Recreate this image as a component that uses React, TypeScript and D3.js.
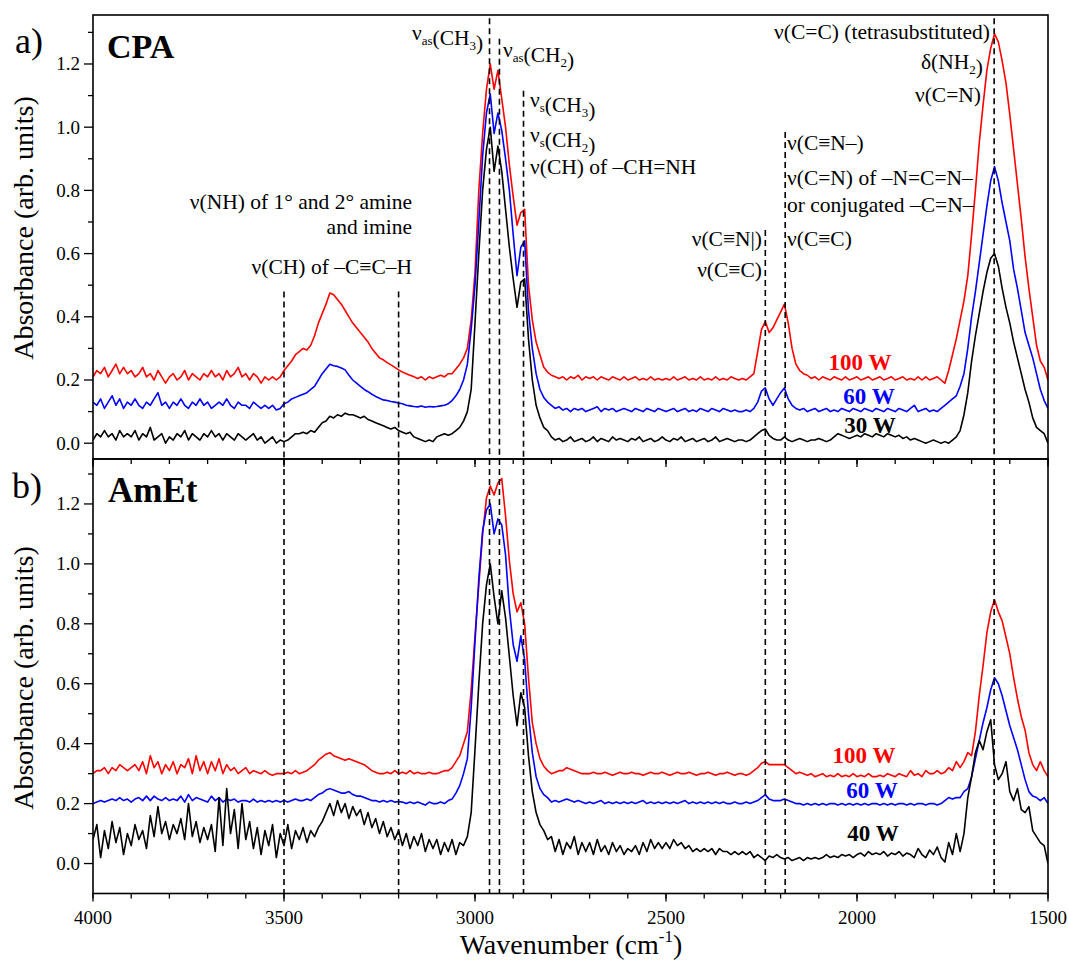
import * as d3 from 'd3'

// wavenumber grid shared by every spectrum (cm-1), 10 cm-1 step
const WN = d3.range(4000, 1499, -10)

// a) CPA
const cpa100 = [
  .21, .23, .22, .24, .21, .23, .25, .22, .24, .22,
  .23, .21, .22, .24, .21, .22, .20, .23, .21, .19,
  .21, .22, .20, .21, .23, .20, .22, .21, .20, .22,
  .21, .23, .21, .22, .20, .23, .21, .22, .24, .21,
  .22, .20, .22, .21, .19, .21, .20, .21, .20, .21,
  .23, .245, .26, .28, .29, .30, .295, .31, .34, .38,
  .41, .44, .475, .47, .455, .44, .42, .40, .38, .365,
  .35, .335, .32, .30, .285, .27, .264, .255, .248, .24,
  .232, .225, .22, .215, .21, .205, .21, .20, .21, .205,
  .21, .215, .21, .22, .22, .235, .25, .27, .30, .39,
  .54, .80, .98, 1.12, 1.20, 1.12, 1.18, 1.09, 1.00, .88,
  .78, .69, .73, .74, .50, .39, .32, .28, .24, .225,
  .215, .21, .205, .21, .20, .21, .205, .215, .20, .21,
  .205, .21, .20, .21, .205, .20, .21, .205, .20, .21,
  .20, .205, .21, .20, .205, .20, .21, .20, .205, .20,
  .205, .20, .21, .20, .205, .21, .20, .205, .20, .21,
  .20, .205, .20, .21, .20, .205, .20, .21, .205, .20,
  .205, .20, .21, .22, .29, .36, .385, .35, .365, .39,
  .415, .44, .38, .30, .25, .23, .22, .215, .205, .21,
  .20, .21, .205, .20, .21, .205, .20, .21, .20, .205,
  .21, .20, .205, .21, .20, .205, .21, .20, .205, .21,
  .20, .205, .21, .20, .205, .20, .21, .20, .21, .20,
  .205, .21, .20, .19, .23, .28, .33, .39, .45, .53,
  .66, .80, .95, 1.07, 1.18, 1.25, 1.295, 1.27, 1.21, 1.14,
  1.04, .93, .82, .71, .59, .49, .40, .31, .26, .24,
  .20,
]

const cpa60 = [
  .13, .12, .14, .11, .13, .15, .12, .14, .11, .13,
  .12, .14, .12, .11, .13, .12, .14, .16, .12, .13,
  .11, .13, .12, .14, .12, .11, .13, .12, .14, .12,
  .13, .11, .12, .13, .12, .14, .12, .11, .13, .12,
  .12, .11, .13, .12, .11, .12, .11, .12, .105, .11,
  .125, .13, .14, .145, .15, .155, .16, .17, .18, .20,
  .22, .235, .25, .245, .243, .238, .232, .215, .20, .19,
  .18, .17, .163, .155, .148, .142, .137, .135, .132, .13,
  .127, .125, .12, .118, .116, .115, .118, .114, .116, .115,
  .116, .118, .12, .125, .135, .15, .17, .20, .25, .36,
  .50, .70, .91, 1.045, 1.105, .98, 1.045, .99, .90, .80,
  .66, .53, .62, .64, .42, .30, .22, .17, .145, .13,
  .12, .11, .115, .105, .11, .10, .11, .105, .11, .10,
  .105, .11, .115, .10, .11, .105, .11, .10, .105, .11,
  .105, .10, .11, .105, .10, .11, .105, .10, .11, .105,
  .10, .105, .11, .10, .105, .11, .10, .105, .10, .11,
  .105, .10, .11, .105, .10, .11, .105, .10, .105, .10,
  .10, .105, .10, .11, .13, .165, .175, .14, .12, .14,
  .16, .175, .14, .12, .11, .105, .11, .10, .105, .11,
  .10, .105, .11, .10, .105, .10, .11, .105, .10, .11,
  .105, .10, .11, .105, .10, .11, .105, .10, .11, .105,
  .10, .11, .105, .10, .11, .12, .10, .105, .11, .10,
  .105, .10, .11, .12, .13, .14, .15, .18, .22, .30,
  .40, .48, .57, .66, .75, .83, .875, .83, .76, .70,
  .64, .55, .49, .42, .35, .31, .27, .22, .17, .135,
  .11,
]

const cpa30 = [
  .01, .03, .02, .04, .02, .03, .01, .04, .02, .03,
  .02, .04, .01, .03, .02, .05, .01, .02, .03, .00,
  .02, .01, .03, .02, .04, .01, .03, .02, .01, .03,
  .02, .04, .02, .03, .01, .03, .02, .01, .03, .02,
  .01, .02, .03, .01, .02, .00, .01, .02, .00, .01,
  .005, .01, .02, .03, .03, .035, .03, .04, .035, .05,
  .065, .07, .085, .08, .09, .085, .095, .09, .09, .085,
  .08, .085, .075, .07, .065, .06, .055, .05, .045, .05,
  .04, .035, .03, .035, .02, .015, .01, .005, .01, .005,
  .02, .025, .03, .025, .03, .04, .05, .07, .10, .17,
  .38, .60, .80, .93, 1.00, .86, .94, .86, .74, .62,
  .52, .43, .51, .52, .33, .20, .12, .08, .05, .04,
  .02, .01, .015, .005, .01, .02, .005, .01, .015, .005,
  .01, .02, .005, .015, .01, .005, .02, .01, .015, .01,
  .005, .015, .01, .02, .005, .01, .015, .005, .01, .02,
  .01, .005, .015, .01, .02, .005, .01, .015, .005, .01,
  .015, .005, .01, .02, .005, .01, .015, .01, .005, .01,
  .01, .005, .01, .02, .03, .04, .045, .025, .015, .01,
  .01, .02, .01, .005, .01, .015, .01, .005, .01, .01,
  .015, .01, .005, .01, .02, .03, .025, .02, .015, .02,
  .025, .02, .03, .025, .02, .03, .025, .02, .03, .025,
  .02, .025, .015, .02, .01, .015, .01, .005, .0, .005,
  .01, .005, .0, .005, .0, .01, .02, .04, .09, .16,
  .26, .34, .41, .48, .54, .585, .60, .56, .49, .43,
  .38, .32, .27, .22, .17, .13, .08, .05, .04, .03,
  .0,
]

// b) AmEt
const amet100 = [
  .30, .31, .31, .32, .30, .32, .31, .33, .32, .31,
  .32, .33, .31, .34, .30, .36, .32, .34, .30, .33,
  .31, .34, .30, .33, .32, .35, .30, .36, .31, .34,
  .30, .34, .31, .35, .30, .33, .31, .32, .30, .31,
  .32, .30, .31, .305, .30, .31, .30, .295, .30, .30,
  .30, .305, .30, .31, .30, .305, .31, .32, .33, .345,
  .355, .365, .37, .36, .355, .35, .345, .35, .345, .34,
  .335, .33, .32, .31, .305, .30, .30, .305, .30, .31,
  .30, .305, .30, .31, .30, .305, .30, .30, .305, .30,
  .30, .305, .31, .31, .32, .34, .36, .40, .44, .58,
  .76, .93, 1.10, 1.22, 1.26, 1.23, 1.27, 1.285, 1.16, 1.01,
  .90, .84, .87, .80, .62, .47, .40, .35, .325, .31,
  .30, .305, .31, .31, .32, .315, .31, .305, .30, .30,
  .30, .305, .30, .30, .305, .30, .295, .30, .305, .30,
  .30, .305, .30, .30, .295, .30, .305, .30, .30, .305,
  .30, .295, .30, .305, .30, .30, .305, .30, .295, .30,
  .30, .305, .30, .295, .30, .30, .305, .30, .295, .30,
  .30, .295, .30, .31, .32, .335, .34, .33, .33, .33,
  .33, .33, .32, .31, .30, .305, .30, .295, .30, .29,
  .295, .30, .29, .295, .29, .30, .29, .295, .29, .30,
  .29, .295, .29, .30, .29, .29, .295, .29, .30, .295,
  .29, .30, .295, .29, .31, .295, .30, .29, .31, .30,
  .30, .31, .30, .305, .32, .31, .34, .32, .34, .37,
  .36, .44, .56, .66, .77, .84, .88, .84, .81, .755,
  .70, .62, .55, .49, .445, .37, .33, .31, .34, .31,
  .29,
]

const amet60 = [
  .20, .205, .21, .205, .21, .215, .21, .22, .21, .215,
  .205, .215, .22, .21, .225, .21, .225, .215, .21, .22,
  .21, .215, .21, .225, .205, .23, .21, .22, .215, .21,
  .205, .225, .21, .22, .205, .215, .21, .215, .205, .21,
  .21, .205, .215, .205, .21, .205, .21, .205, .21, .205,
  .21, .205, .21, .215, .21, .21, .215, .21, .22, .23,
  .235, .245, .25, .245, .24, .235, .235, .24, .23, .225,
  .225, .22, .215, .21, .21, .205, .21, .205, .21, .205,
  .207, .205, .20, .205, .20, .205, .20, .195, .205, .20,
  .20, .205, .20, .21, .215, .235, .26, .30, .35, .52,
  .74, .95, 1.11, 1.18, 1.20, 1.10, 1.15, 1.13, 1.03, .85,
  .73, .675, .76, .68, .50, .37, .29, .25, .23, .22,
  .205, .21, .205, .21, .215, .21, .205, .21, .205, .20,
  .205, .20, .205, .21, .20, .205, .20, .205, .20, .205,
  .20, .205, .20, .205, .21, .20, .205, .20, .205, .20,
  .205, .20, .205, .20, .205, .21, .20, .205, .20, .205,
  .20, .205, .20, .205, .20, .205, .20, .20, .205, .20,
  .20, .205, .20, .205, .21, .22, .23, .215, .21, .21,
  .21, .215, .21, .205, .20, .20, .195, .20, .195, .20,
  .195, .20, .195, .20, .20, .195, .20, .195, .20, .195,
  .20, .195, .20, .195, .20, .20, .195, .20, .195, .20,
  .195, .20, .20, .195, .20, .195, .20, .20, .195, .20,
  .20, .195, .20, .21, .22, .215, .22, .22, .24, .25,
  .29, .35, .41, .47, .52, .58, .62, .60, .56, .51,
  .46, .42, .38, .33, .28, .24, .225, .22, .21, .22,
  .20,
]

const amet40 = [
  .08, .13, .02, .11, .05, .14, .07, .12, .03, .10,
  .06, .13, .08, .11, .05, .16, .09, .19, .10, .14,
  .08, .13, .10, .15, .08, .20, .09, .14, .07, .12,
  .08, .13, .04, .22, .06, .25, .10, .18, .05, .20,
  .08, .14, .05, .12, .03, .11, .06, .13, .02, .10,
  .06, .13, .05, .11, .08, .12, .07, .11, .09, .12,
  .14, .17, .20, .16, .21, .17, .20, .15, .19, .16,
  .18, .13, .17, .12, .15, .10, .14, .09, .12, .08,
  .11, .06, .10, .05, .09, .06, .10, .04, .08, .05,
  .08, .03, .07, .04, .08, .03, .07, .06, .09, .17,
  .38, .60, .80, .93, 1.00, .89, .80, .91, .82, .69,
  .56, .46, .57, .52, .36, .24, .17, .13, .11, .08,
  .09, .04, .08, .03, .07, .05, .09, .03, .07, .04,
  .07, .03, .08, .04, .06, .03, .07, .04, .06, .03,
  .05, .04, .06, .03, .07, .04, .08, .05, .07, .05,
  .07, .05, .08, .06, .07, .05, .06, .04, .05, .04,
  .05, .04, .05, .03, .05, .04, .04, .03, .04, .03,
  .04, .03, .04, .02, .03, .02, .01, .025, .02, .03,
  .02, .015, .02, .01, .015, .02, .01, .02, .015, .02,
  .015, .02, .03, .02, .025, .02, .03, .025, .03, .02,
  .03, .035, .025, .04, .03, .035, .03, .04, .025, .035,
  .03, .04, .025, .035, .03, .02, .05, .03, .02, .045,
  .03, .055, .02, .005, .07, .03, .10, .04, .10, .22,
  .29, .37, .41, .38, .44, .48, .33, .28, .30, .34,
  .24, .21, .25, .18, .17, .19, .11, .09, .07, .06,
  .0,
]

// band positions marked with dashed lines (cm-1) and where they start in panel a)
const bandWn = [3500, 3200, 2962, 2936, 2873, 2240, 2188, 1641]
const bandTopA = [0.48, 0.48, 1.345, 1.28, 1.115, 0.675, 0.985, 1.345]

const xMajor = [4000, 3500, 3000, 2500, 2000, 1500]
const xMinor = d3.range(4000, 1499, -100)
const yMajor = [0, 0.2, 0.4, 0.6, 0.8, 1.0, 1.2]
const yMinor = [0.1, 0.3, 0.5, 0.7, 0.9, 1.1, 1.3]

// generic family only: named serif families came out sans in regular weight
const FONT = 'serif'
const RED = '#ff0000'
const BLUE = '#0000ff'
const BLACK = '#000000'

const L = 93
const R = 1048
const x = d3.scaleLinear().domain([4000, 1500]).range([L, R])
const yA = d3.scaleLinear().domain([-0.05, 1.355]).range([459, 15])
const yB = d3.scaleLinear().domain([-0.1, 1.35]).range([893.5, 459])

function spectrumPath(vals: number[], y: d3.ScaleLinear<number, number>) {
  const n = Math.min(vals.length, WN.length)
  const pts: [number, number][] = []
  for (let i = 0; i < n; i++) pts.push([WN[i], vals[i]])
  return d3
    .line<[number, number]>()
    .x((d) => x(d[0]))
    .y((d) => y(d[1]))(pts) as string
}

function T(props: any) {
  return <text fontFamily={FONT} {...props} />
}

function YAxis({ y, labelY }: { y: d3.ScaleLinear<number, number>; labelY: number }) {
  const fmt = d3.format('.1f')
  return (
    <g>
      {yMajor.map((v) => (
        <g key={'M' + v}>
          <line x1={L - 9} x2={L} y1={y(v)} y2={y(v)} stroke="#000" strokeWidth={1.3} />
          <T x={L - 13} y={y(v) + 6.5} textAnchor="end" fontSize={19}>
            {fmt(v)}
          </T>
        </g>
      ))}
      {yMinor.map((v) => (
        <line key={'m' + v} x1={L - 5} x2={L} y1={y(v)} y2={y(v)} stroke="#000" strokeWidth={1.3} />
      ))}
      <T transform={`translate(33,${labelY}) rotate(-90)`} textAnchor="middle" fontSize={28}>
        Absorbance (arb. units)
      </T>
    </g>
  )
}

function XTicks({ yPos, labels }: { yPos: number; labels: boolean }) {
  return (
    <g>
      {xMinor.map((v) => (
        <line key={'m' + v} x1={x(v)} x2={x(v)} y1={yPos} y2={yPos + 5} stroke="#000" strokeWidth={1.3} />
      ))}
      {xMajor.map((v) => (
        <g key={'M' + v}>
          <line x1={x(v)} x2={x(v)} y1={yPos} y2={yPos + 8} stroke="#000" strokeWidth={1.3} />
          {labels && (
            <T x={x(v)} y={yPos + 30} textAnchor="middle" fontSize={19}>
              {v}
            </T>
          )}
        </g>
      ))}
    </g>
  )
}

const Sub = ({ children }: { children: string }) => (
  <>
    <tspan fontSize={13} dy={5}>
      {children}
    </tspan>
    <tspan dy={-5}>{''}</tspan>
  </>
)

export default function App() {
  const dash = '6,4'
  const pw = { fontSize: 23, fontWeight: 700, textAnchor: 'middle' }
  const an = { fontSize: 21.5 }
  return (
    <svg width={1068} height={962} style={{ position: 'absolute', left: 0, top: 0 }}>
      <defs>
        <clipPath id="clipA">
          <rect x={L} y={15} width={R - L} height={444} />
        </clipPath>
        <clipPath id="clipB">
          <rect x={L} y={459} width={R - L} height={434} />
        </clipPath>
      </defs>

      {/* panel a */}
      <g clipPath="url(#clipA)" fill="none" strokeWidth={1.6} strokeLinejoin="round">
        <path d={spectrumPath(cpa100, yA)} stroke={RED} />
        <path d={spectrumPath(cpa60, yA)} stroke={BLUE} />
        <path d={spectrumPath(cpa30, yA)} stroke={BLACK} />
      </g>
      {bandWn.map((w, i) => (
        <line
          key={'da' + w}
          x1={x(w)}
          x2={x(w)}
          y1={yA(bandTopA[i])}
          y2={459}
          stroke="#000"
          strokeWidth={1.6}
          strokeDasharray={dash}
        />
      ))}

      {/* panel b */}
      <g clipPath="url(#clipB)" fill="none" strokeWidth={1.6} strokeLinejoin="round">
        <path d={spectrumPath(amet100, yB)} stroke={RED} />
        <path d={spectrumPath(amet60, yB)} stroke={BLUE} />
        <path d={spectrumPath(amet40, yB)} stroke={BLACK} />
      </g>
      {bandWn.map((w) => (
        <line
          key={'db' + w}
          x1={x(w)}
          x2={x(w)}
          y1={459}
          y2={893}
          stroke="#000"
          strokeWidth={1.6}
          strokeDasharray={dash}
        />
      ))}

      {/* frames and axes */}
      <rect x={L} y={15} width={R - L} height={444} fill="none" stroke="#000" strokeWidth={1.6} />
      <rect x={L} y={459} width={R - L} height={434.5} fill="none" stroke="#000" strokeWidth={1.6} />
      <XTicks yPos={459} labels={false} />
      <XTicks yPos={893.5} labels={true} />
      <YAxis y={yA} labelY={228} />
      <YAxis y={yB} labelY={678} />

      <T x={571} y={954} textAnchor="middle" fontSize={28}>
        Wavenumber (cm
        <tspan fontSize={17} dy={-12}>
          -1
        </tspan>
        <tspan dy={12}>)</tspan>
      </T>

      {/* panel letters */}
      <T x={15} y={53} fontSize={36}>
        a)
      </T>
      <T x={12} y={498} fontSize={36}>
        b)
      </T>
      <T x={107} y={58} fontSize={34} fontWeight={700}>
        CPA
      </T>
      <T x={108} y={502} fontSize={35} fontWeight={700}>
        AmEt
      </T>

      {/* band assignments */}
      <T {...an} x={412} y={209} textAnchor="end">
        ν(NH) of 1° and 2° amine
      </T>
      <T {...an} x={412} y={234} textAnchor="end">
        and imine
      </T>
      <T {...an} x={412} y={274} textAnchor="end">
        ν(CH) of –C≡C–H
      </T>
      <T {...an} x={412} y={40}>
        ν<Sub>as</Sub>(CH<Sub>3</Sub>)
      </T>
      <T {...an} x={503} y={57}>
        ν<Sub>as</Sub>(CH<Sub>2</Sub>)
      </T>
      <T {...an} x={530} y={107}>
        ν<Sub>s</Sub>(CH<Sub>3</Sub>)
      </T>
      <T {...an} x={530} y={142}>
        ν<Sub>s</Sub>(CH<Sub>2</Sub>)
      </T>
      <T {...an} x={530} y={174}>
        ν(CH) of –CH=NH
      </T>
      <T {...an} x={787} y={150}>
        ν(C≡N–)
      </T>
      <T {...an} x={787} y={185}>
        ν(C=N) of –N=C=N–
      </T>
      <T {...an} x={787} y={212}>
        or conjugated –C=N–
      </T>
      <T {...an} x={787} y={246}>
        ν(C≡C)
      </T>
      <T {...an} x={762} y={246} textAnchor="end">
        ν(C≡N|)
      </T>
      <T {...an} x={762} y={277} textAnchor="end">
        ν(C≡C)
      </T>
      <T {...an} x={990} y={39} textAnchor="end">
        ν(C=C) (tetrasubstituted)
      </T>
      <T {...an} x={983} y={69} textAnchor="end">
        δ(NH<Sub>2</Sub>)
      </T>
      <T {...an} x={981} y={102} textAnchor="end">
        ν(C=N)
      </T>

      {/* power labels */}
      <T x={860} y={370} fill={RED} {...pw}>
        100 W
      </T>
      <T x={869} y={404} fill={BLUE} {...pw}>
        60 W
      </T>
      <T x={870} y={433} fill={BLACK} {...pw}>
        30 W
      </T>
      <T x={864} y={763} fill={RED} {...pw}>
        100 W
      </T>
      <T x={872} y={798} fill={BLUE} {...pw}>
        60 W
      </T>
      <T x={873} y={841} fill={BLACK} {...pw}>
        40 W
      </T>
    </svg>
  )
}
